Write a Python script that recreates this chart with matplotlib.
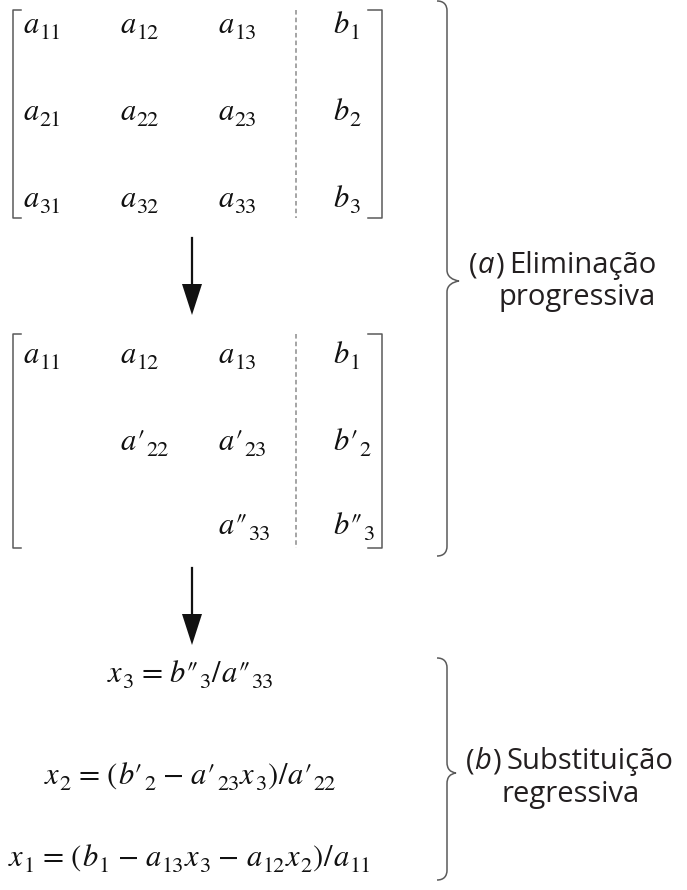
import re

import matplotlib
matplotlib.use('Agg')
import matplotlib.pyplot as plt
from matplotlib.path import Path
from matplotlib.patches import PathPatch, Polygon

W, H = 687, 890

# augmented matrix before and after forward elimination
mat_before = [['a_{11}', 'a_{12}', 'a_{13}', 'b_1'],
              ['a_{21}', 'a_{22}', 'a_{23}', 'b_2'],
              ['a_{31}', 'a_{32}', 'a_{33}', 'b_3']]
mat_after = [['a_{11}', 'a_{12}', 'a_{13}', 'b_1'],
             ['', 'a′_{22}', 'a′_{23}', 'b′_2'],
             ['', '', 'a″_{33}', 'b″_3']]
solutions = ['x_3 = b″_3/a″_{33}',
             'x_2 = (b′_2 - a′_{23}x_3)/a′_{22}',
             'x_1 = (b_1 - a_{13}x_3 - a_{12}x_2)/a_{11}']
label_a = ['a', 'Eliminação', 'progressiva']
label_b = ['b', 'Substituição', 'regressiva']

col_x = [23, 120, 218, 333]
rows_before = [33, 120, 207]
rows_after = [363, 450, 534]
sol_y = [682, 784, 866]

INK = '#111111'
SANS = dict(family='Open Sans', fontsize=21, color='#231f20')
GRAY = '#5a5a5a'
# kind -> (size, style, baseline shift in px, gap before, gap after)
KINDS = {'it': (22, 'italic', 0, 0, 1),
         'rm': (22, 'normal', 0, 0, 1),
         'sub': (16, 'normal', 6, 0, 1),
         'op': (22, 'normal', 0, 7, 7)}
TOKEN = re.compile(r'_\{([^}]*)\}|_(\S)|(\S)')

fig = plt.figure(figsize=(6.87, 8.90), dpi=100)
ax = fig.add_axes([0, 0, 1, 1])
ax.set_xlim(0, W)
ax.set_ylim(H, 0)
ax.axis('off')
renderer = fig.canvas.get_renderer()


def tokens(expr):
    out = []
    for m in TOKEN.finditer(expr):
        sub = m.group(1) or m.group(2)
        ch = m.group(3)
        if sub:
            out.append((sub, 'sub'))
        elif ch.isalpha():
            out.append((ch, 'it'))
        elif ch == '-':
            out.append(('\u2212', 'op'))
        elif ch == '=':
            out.append((ch, 'op'))
        else:
            out.append((ch, 'rm'))
    return out


def formula(x, y, expr, ha='left'):
    # small hand-made typesetter: italic letters, lowered subscripts
    placed = []
    cx = 0
    for s, kind in tokens(expr):
        size, style, dy, g0, g1 = KINDS[kind]
        cx += g0
        t = ax.text(0, 0, s, family='STIXGeneral', fontsize=size, fontstyle=style,
                    ha='left', va='baseline', color=INK)
        placed.append((t, cx, dy))
        cx += t.get_window_extent(renderer).width + g1
    x0 = x - cx / 2 if ha == 'center' else x
    for t, off, dy in placed:
        t.set_position((x0 + off, y + dy))


def matrix(entries, rows, top, bottom):
    for r, row in enumerate(entries):
        for c, s in enumerate(row):
            if s:
                formula(col_x[c], rows[r], s)
    ax.plot([21, 13, 13, 21], [top, top, bottom, bottom], color=GRAY, lw=1.1)
    ax.plot([368, 382, 382, 368], [top, top, bottom, bottom], color=GRAY, lw=1.1)
    ax.plot([296, 296], [top, bottom], color='#8c8c8c', lw=1.1, dashes=(3, 2))


def arrow(x, y0, y1):
    ax.plot([x, x], [y0, y1 - 28], color=INK, lw=1.6)
    ax.add_patch(Polygon([(x - 10, y1 - 31), (x + 10, y1 - 31), (x, y1)],
                         closed=True, color=INK, lw=0))


def brace(x, y0, y1, ytip, tip=12):
    verts = [(x - 10, y0), (x - 3, y0), (x, y0 + 4), (x, y0 + 10),
             (x, ytip - 11),
             (x, ytip - 4), (x + tip - 6, ytip - 1), (x + tip, ytip),
             (x + tip - 6, ytip + 1), (x, ytip + 4), (x, ytip + 11),
             (x, y1 - 10),
             (x, y1 - 4), (x - 3, y1), (x - 10, y1)]
    codes = [Path.MOVETO] + [Path.CURVE4] * 3 + [Path.LINETO] + [Path.CURVE4] * 6 + \
            [Path.LINETO] + [Path.CURVE4] * 3
    ax.add_patch(PathPatch(Path(verts, codes), fill=False, edgecolor=GRAY, lw=1.1))


def label(letter, word, x, y):
    # "(x) word" with the letter in italics
    pieces = [('(', 'normal', 0), (letter, 'italic', 1), (')', 'normal', 5), (word, 'normal', 0)]
    cx = x
    for s, style, gap in pieces:
        t = ax.text(cx, y, s, ha='left', va='baseline', fontstyle=style, **SANS)
        cx += t.get_window_extent(renderer).width + gap


matrix(mat_before, rows_before, 10, 218)
matrix(mat_after, rows_after, 334, 548)
arrow(192, 238, 315)
arrow(192, 568, 645)

for s, y in zip(solutions, sol_y):
    formula(191, y, s, ha='center')

brace(447, 1, 556, 281)
brace(447, 658, 880, 773, tip=9)

label(label_a[0], label_a[1], 469, 273)
ax.text(656, 305, label_a[2], ha='right', va='baseline', **SANS)
label(label_b[0], label_b[1], 466, 769)
ax.text(571, 802, label_b[2], ha='center', va='baseline', **SANS)

fig.savefig('out.png', dpi=100)
